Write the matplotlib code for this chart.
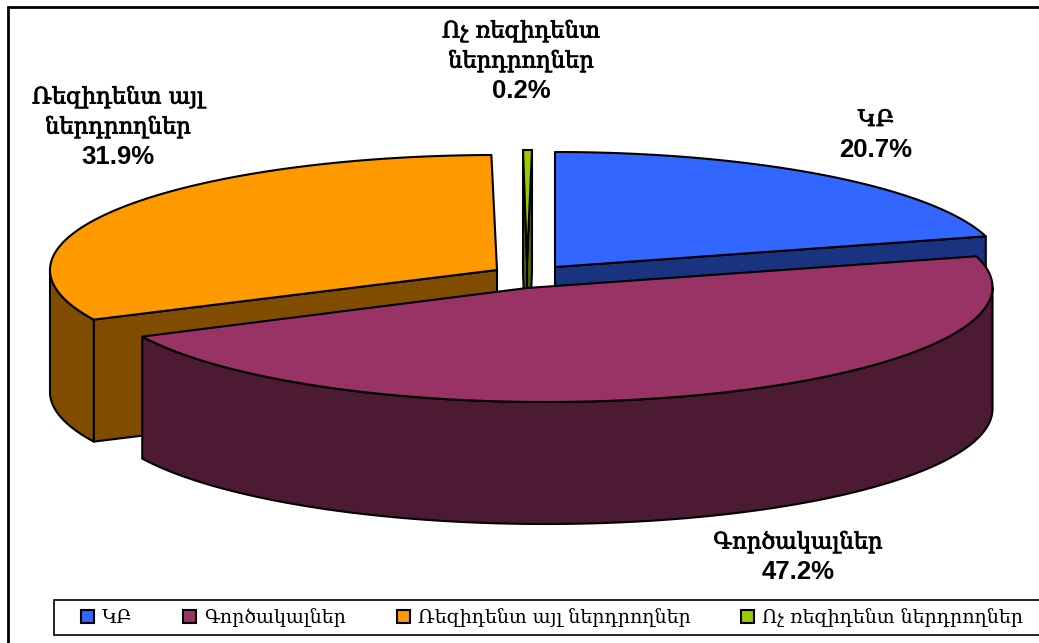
import numpy as np
import matplotlib
matplotlib.use('Agg')
import matplotlib.pyplot as plt
import matplotlib.patheffects as pe
from matplotlib.patches import Polygon, Rectangle, Patch

# data
names = ['ԿԲ', 'Գործակալներ', 'Ռեզիդենտ այլ ներդրողներ', 'Ոչ ռեզիդենտ ներդրողներ']
label_lines = [['ԿԲ'], ['Գործակալներ'], ['Ռեզիդենտ այլ', 'ներդրողներ'], ['Ոչ ռեզիդենտ', 'ներդրողներ']]
values = [20.7, 47.2, 31.9, 0.2]

top_colors = ['#3366FF', '#993366', '#FF9900', '#99CC00']
side_colors = ['#1A3380', '#4D1A33', '#804D00', '#4D6600']

# tilted pie geometry in image pixels
rim_x = [555, 545.5, 497, 532]
rim_y = [267, 287, 270, 265]
apex_x = [555, 527, 497, 527]
apex_y = [267, 288, 270, 262]
rx = 447
ry = 115
depth = 122
# which cut faces show: start of slice, end of slice
show_start = [False, False, True, True]
show_end = [True, False, False, True]
# the smallest slice gets a little more sweep, it would vanish under its outline
start_pad = [0, 0, 0, 0.43]

label_x = [876, 798, 118, 521]
label_y = [120, 542, 97, 31]
line_h = 30

fig = plt.figure(figsize=(10.39, 6.43), dpi=100)
ax = fig.add_axes([0, 0, 1, 1])
ax.set_xlim(0, 1039)
ax.set_ylim(643, 0)
ax.axis('off')

ax.add_patch(Rectangle((8, 7), 1200, 800, fc='white', ec='black', lw=2))


def rim(i, a, b):
    t = np.radians(np.linspace(a, b, 200))
    return rim_x[i] + rx * np.sin(t), rim_y[i] - ry * np.cos(t)


def draw_slice(i, a, b, z):
    kw = dict(ec='black', lw=1.5, joinstyle='round', zorder=z)
    ap = (apex_x[i], apex_y[i])
    x0, y0 = rim(i, a, a)
    x1, y1 = rim(i, b, b)
    # cut faces
    if show_start[i]:
        pts = [ap, (x0[0], y0[0]), (x0[0], y0[0] + depth), (ap[0], ap[1] + depth)]
        ax.add_patch(Polygon(pts, fc=side_colors[i], **kw))
    if show_end[i]:
        pts = [ap, (x1[0], y1[0]), (x1[0], y1[0] + depth), (ap[0], ap[1] + depth)]
        ax.add_patch(Polygon(pts, fc=side_colors[i], **kw))
    # outer wall, only the part turned to the viewer
    lo, hi = max(a, 90), min(b, 270)
    if lo < hi:
        x, y = rim(i, lo, hi)
        pts = np.r_[np.c_[x, y], np.c_[x[::-1], y[::-1] + depth]]
        ax.add_patch(Polygon(pts, fc=side_colors[i], **kw))
    x, y = rim(i, a, b)
    pts = np.r_[[ap], np.c_[x, y]]
    ax.add_patch(Polygon(pts, fc=top_colors[i], **kw))


angles = np.r_[0, np.cumsum(values)] * 3.6
for z, i in enumerate([2, 3, 0, 1]):
    draw_slice(i, angles[i] - start_pad[i], angles[i + 1], z + 2)

for i in range(4):
    y = label_y[i]
    for s in label_lines[i]:
        ax.text(label_x[i], y, s, ha='center', va='center', family='DejaVu Serif',
                fontsize=16.3, zorder=10,
                path_effects=[pe.withStroke(linewidth=0.6, foreground='black')])
        y += line_h
    ax.text(label_x[i], y, f'{values[i]}%', ha='center', va='center',
            family='Liberation Sans', weight='bold', fontsize=18.5, zorder=10)

# legend frame runs past the right edge of the picture
ax.add_patch(Rectangle((54, 600), 1100, 35, fc='white', ec='black', lw=1.2, zorder=9))
handles = [Patch(fc=c, ec='black', lw=1.5) for c in top_colors]
leg = ax.legend(handles, names, ncol=4, mode='expand', loc='center left',
                bbox_to_anchor=(81 / 1039, 1 - 631 / 643, 942 / 1039, 26 / 643),
                borderaxespad=0, frameon=False, borderpad=0,
                prop={'family': 'DejaVu Serif', 'size': 13.7},
                handlelength=0.67, handleheight=0.67, handletextpad=0.42)
leg.set_zorder(10)

fig.savefig('out.png', dpi=100)
